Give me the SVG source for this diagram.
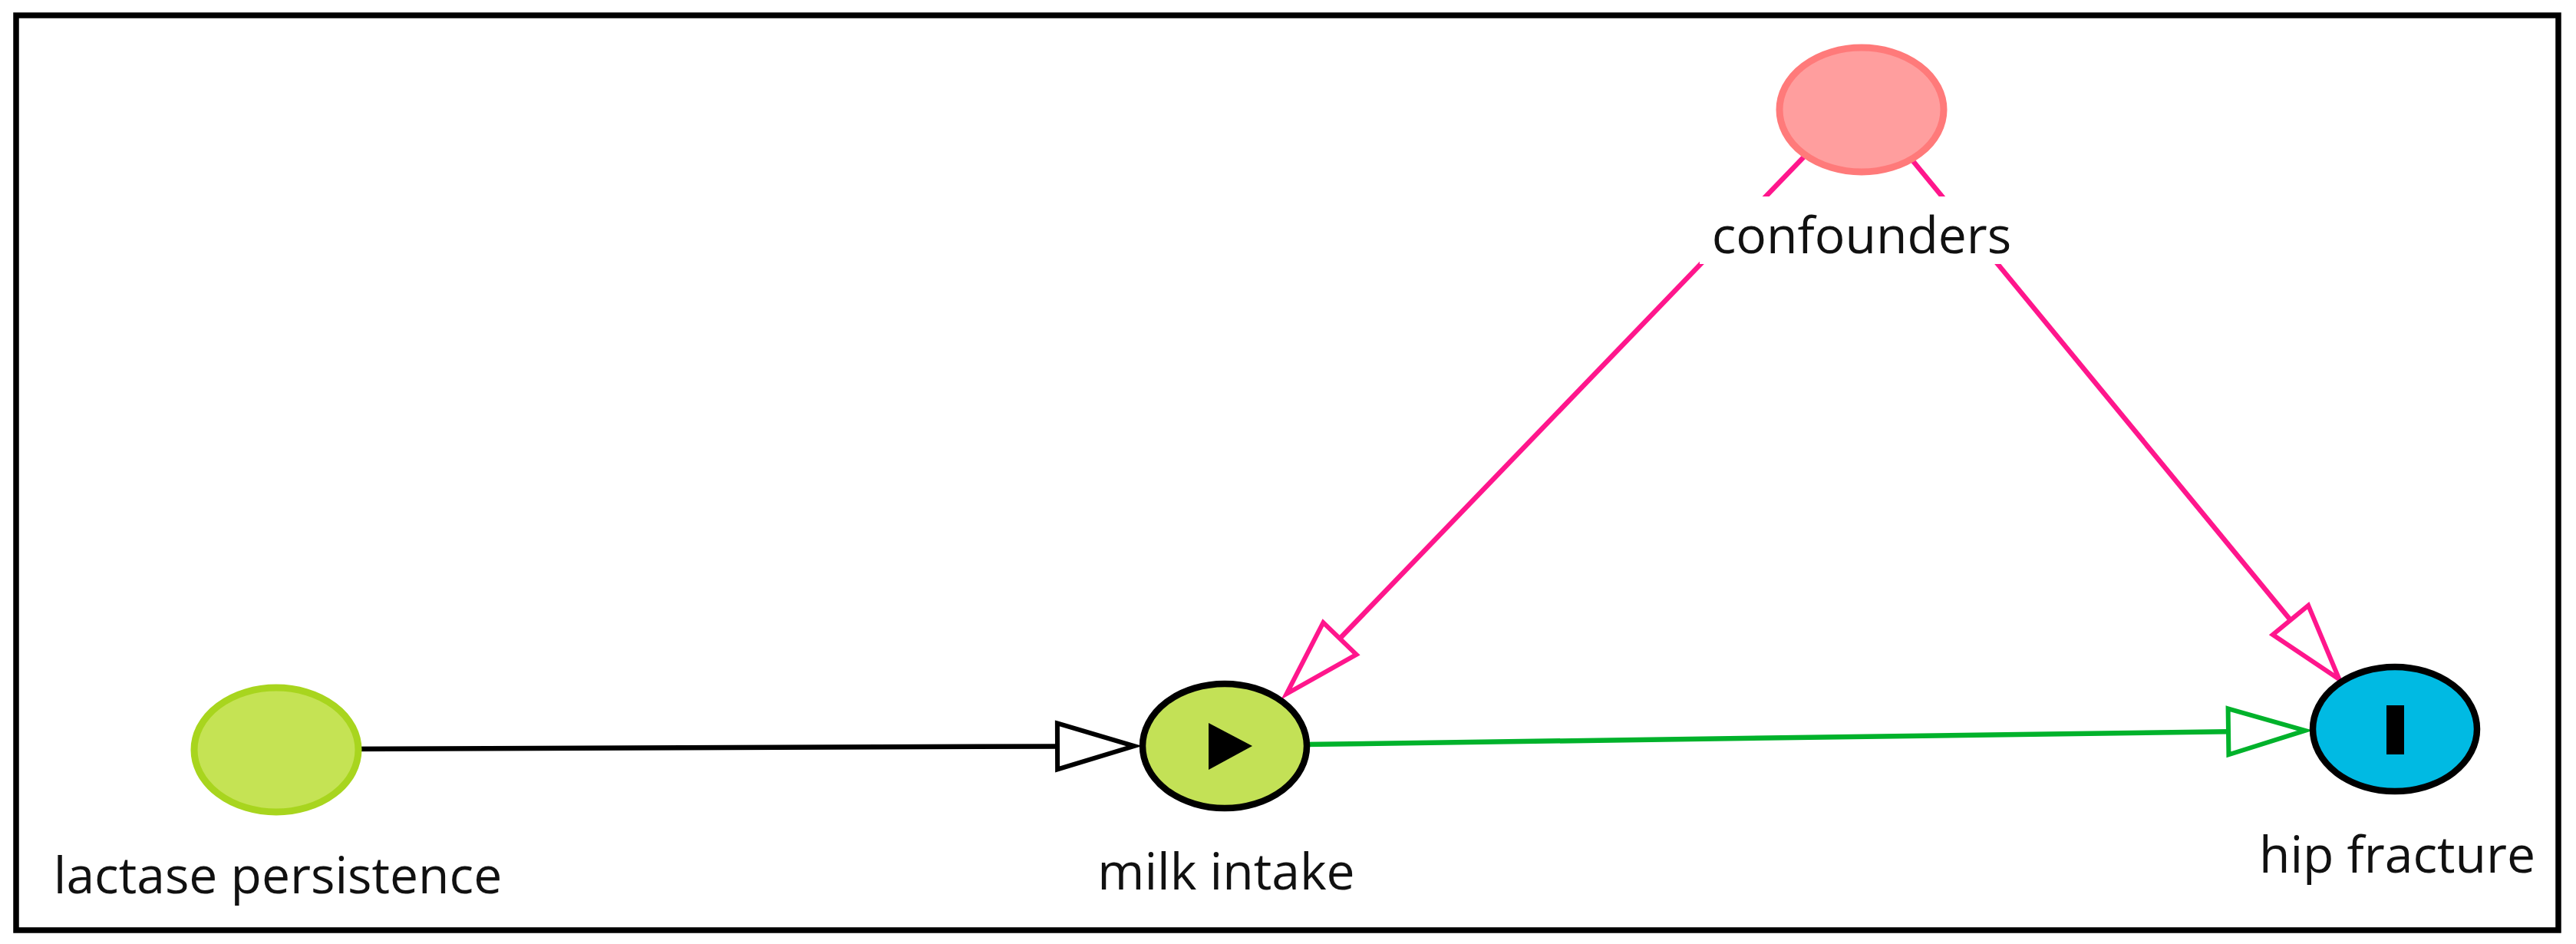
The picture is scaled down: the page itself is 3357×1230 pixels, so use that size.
<svg xmlns="http://www.w3.org/2000/svg" width="3357" height="1230" viewBox="0 0 3357 1230">
<style>
.lbl{font-family:"Open Sans","DejaVu Sans",sans-serif;font-size:66px;fill:#111;text-anchor:middle}
.edge{fill:none;stroke-width:6.5}
.dark{stroke:#000;stroke-width:8.5}
</style>
<defs>
<marker id="ahBlack" markerUnits="userSpaceOnUse" viewBox="-10 -40 120 80" refX="0" refY="0" markerWidth="120" markerHeight="80" orient="auto" overflow="visible">
<path d="M0,-30 L100,0 L0,30 Z" fill="#fff" stroke="#000" stroke-width="6"/>
</marker>
<marker id="ahGreen" markerUnits="userSpaceOnUse" viewBox="-10 -40 120 80" refX="0" refY="0" markerWidth="120" markerHeight="80" orient="auto" overflow="visible">
<path d="M0,-30 L100,0 L0,30 Z" fill="#fff" stroke="#00B22B" stroke-width="6"/>
</marker>
<marker id="ahPink" markerUnits="userSpaceOnUse" viewBox="-10 -40 120 80" refX="0" refY="0" markerWidth="120" markerHeight="80" orient="auto" overflow="visible">
<path d="M0,-30 L100,0 L0,30 Z" fill="#fff" stroke="#FF168C" stroke-width="6"/>
</marker>
</defs>
<rect x="0" y="0" width="3357" height="1230" fill="#fff"/>
<rect id="frame" x="21" y="20" width="3313" height="1192" fill="#fff" stroke="#000" stroke-width="7.5"/>
<g id="connectors">
<line class="edge" x1="440" y1="976" x2="1378" y2="972.4" stroke="#000" marker-end="url(#ahBlack)"/>
<line class="edge" x1="1700" y1="970" x2="2904" y2="953.3" stroke="#00B22B" marker-end="url(#ahGreen)"/>
<line class="edge" x1="2410" y1="143" x2="1746" y2="832" stroke="#FF168C" marker-end="url(#ahPink)"/>
<line class="edge" x1="2438" y1="143" x2="2985" y2="808" stroke="#FF168C" marker-end="url(#ahPink)"/>
</g>
<g id="node-lactase">
<ellipse cx="360" cy="977" rx="107" ry="81" fill="#C5E354" stroke="#A8D51E" stroke-width="9"/>
<text class="lbl" x="362" y="1164">lactase persistence</text>
</g>
<g id="node-milk">
<ellipse class="dark" cx="1596" cy="972" rx="107" ry="81" fill="#C3E156"/>
<polygon points="1575,942 1575,1003 1632,972" fill="#000"/>
<text class="lbl" x="1598" y="1159">milk intake</text>
</g>
<g id="node-confounders">
<ellipse cx="2426" cy="143" rx="107" ry="81" fill="#FF9E9E" stroke="#FF7A7A" stroke-width="9"/>
<rect x="2215" y="256" width="420" height="88" fill="#fff"/>
<text class="lbl" x="2426" y="330">confounders</text>
</g>
<g id="node-hip">
<ellipse class="dark" cx="3121" cy="950" rx="107" ry="81" fill="#00BAE3"/>
<rect x="3110" y="919" width="23" height="64" fill="#000"/>
<text class="lbl" x="3124" y="1137">hip fracture</text>
</g>
</svg>
